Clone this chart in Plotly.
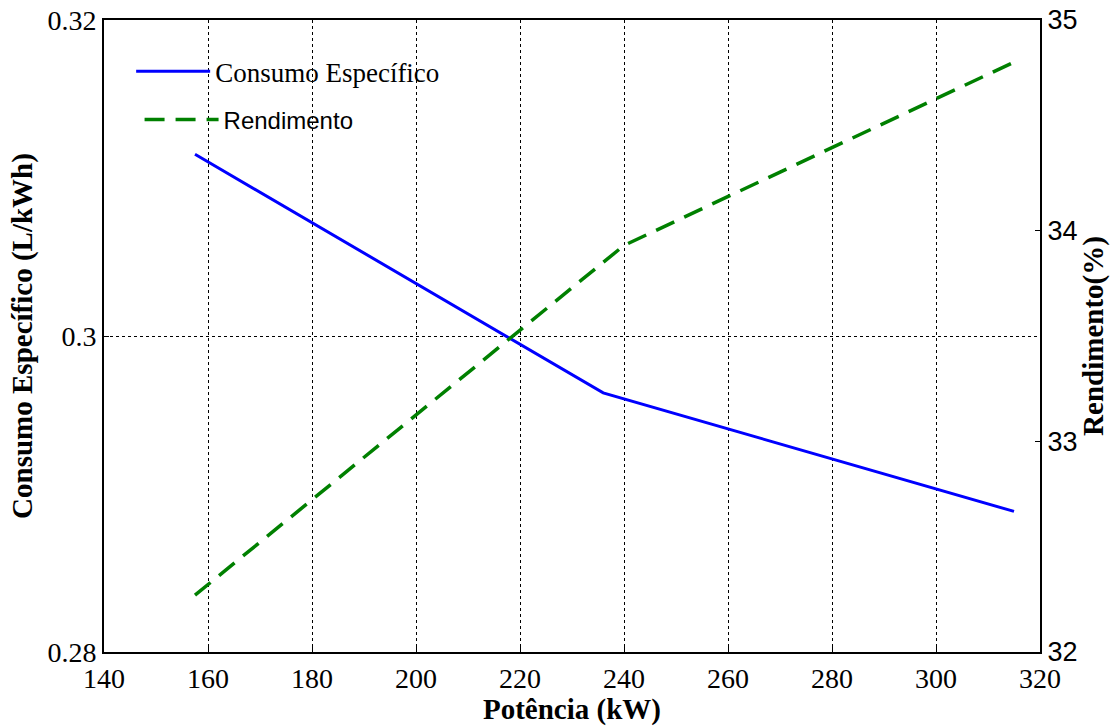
import plotly.graph_objects as go

potencia_consumo = [157.5, 236.0, 315.0]
consumo = [0.3115, 0.2964, 0.2889]
potencia_rendimento = [157.5, 240.0, 315.0]
rendimento = [32.27, 33.93, 34.80]

x_ticks = [140, 160, 180, 200, 220, 240, 260, 280, 300, 320]
y1_ticks = [0.28, 0.30, 0.32]
y2_ticks = [32, 33, 34, 35]

fig = go.Figure()
fig.add_trace(go.Scatter(x=potencia_consumo, y=consumo, mode="lines", name="Consumo Específico",
                         line=dict(color="#0000ff", width=3), legend="legend"))
fig.add_trace(go.Scatter(x=potencia_rendimento, y=rendimento, mode="lines", name="Rendimento",
                         line=dict(color="#008000", width=3.5, dash="20px,11px"),
                         yaxis="y2", legend="legend2"))

serif = "Liberation Serif"
sans = "Liberation Sans"

fig.update_layout(
    width=1114, height=726,
    margin=dict(l=104, r=74, t=20, b=74),
    paper_bgcolor="white", plot_bgcolor="white",
    xaxis=dict(range=[140, 320], tickvals=x_ticks, ticks="inside", ticklen=5,
               tickcolor="black", showline=True, linecolor="black", linewidth=2,
               mirror=True, showgrid=True, gridcolor="black", griddash="dot", gridwidth=1,
               zeroline=False, automargin=False,
               tickfont=dict(family=serif, size=28, color="black"),
               title=dict(text="<b>Potência (kW)</b>", font=dict(family=serif, size=29, color="black"),
                          standoff=8)),
    yaxis=dict(range=[0.28, 0.32], tickvals=y1_ticks, ticktext=["0.28", "0.3", "0.32"],
               ticks="inside", ticklen=5, tickcolor="black",
               showline=True, linecolor="black", linewidth=2, mirror=True,
               showgrid=True, gridcolor="black", griddash="dot", gridwidth=1, zeroline=False,
               automargin=False,
               tickfont=dict(family=serif, size=28, color="black"),
               title=dict(text="<b>Consumo Específico (L/kWh)</b>",
                          font=dict(family=serif, size=29, color="black"), standoff=6)),
    yaxis2=dict(range=[32, 35], tickvals=y2_ticks, overlaying="y", side="right",
                ticks="inside", ticklen=5, tickcolor="black", showline=True,
                linecolor="black", linewidth=2, showgrid=False, zeroline=False,
                automargin=False,
                tickfont=dict(family=sans, size=27, color="black"),
                title=dict(text="<b>Rendimento(%)</b>",
                           font=dict(family=serif, size=29, color="black"), standoff=6)),
    legend=dict(x=0.029, y=0.918, xanchor="left", yanchor="middle",
                bgcolor="rgba(0,0,0,0)", borderwidth=0,
                font=dict(family=serif, size=27, color="black"), itemwidth=74),
    legend2=dict(x=0.038, y=0.842, xanchor="left", yanchor="middle",
                 bgcolor="rgba(0,0,0,0)", borderwidth=0,
                 font=dict(family=sans, size=24, color="black"), itemwidth=74),
    showlegend=True,
)

fig.write_html("out.html")
